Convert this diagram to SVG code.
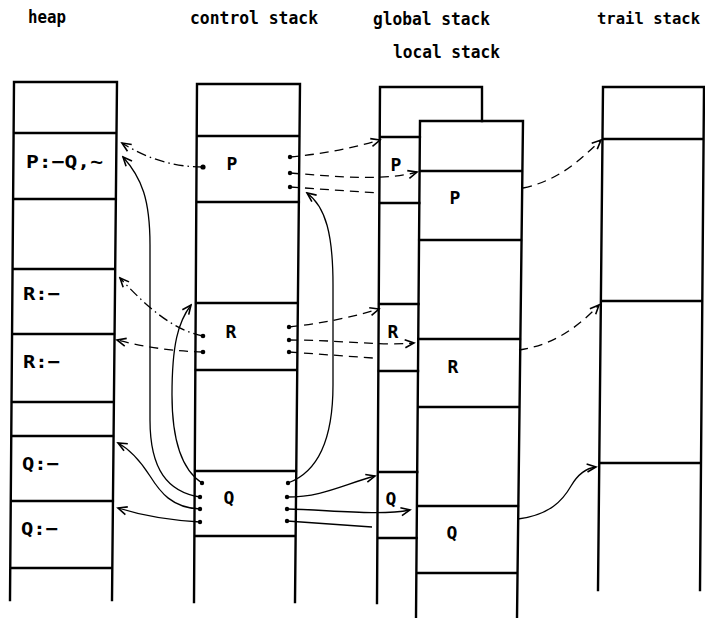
<svg xmlns="http://www.w3.org/2000/svg" width="705" height="618" viewBox="0 0 705 618">
<style>
.col{fill:none;stroke:#000;stroke-width:2.4;stroke-linecap:square}
.hd{font-family:"DejaVu Sans Mono","Liberation Mono",monospace;font-size:18px;font-weight:bold;fill:#000}
.lb{font-family:"DejaVu Sans Mono","Liberation Mono",monospace;font-size:18px;font-weight:bold;fill:#000}
.c{fill:none;stroke:#000;stroke-width:1.3}
.a{marker-end:url(#arr)}
.d{stroke-dasharray:9 6}
.dd{stroke-dasharray:10 4 1.5 4}
.dot{fill:#000}
</style>
<defs>
<marker id="arr" viewBox="-11 -6 13 12" refX="0" refY="0" markerWidth="13" markerHeight="12" markerUnits="userSpaceOnUse" orient="auto">
<path d="M-9,-4 L0,0 L-9,4" fill="none" stroke="#000" stroke-width="1.6"/>
</marker>
</defs>

<g id="titles">
<text class="hd" x="28" y="23" textLength="38" lengthAdjust="spacingAndGlyphs">heap</text>
<text class="hd" x="190" y="24" textLength="128" lengthAdjust="spacingAndGlyphs">control stack</text>
<text class="hd" x="373" y="25" textLength="117" lengthAdjust="spacingAndGlyphs">global stack</text>
<text class="hd" x="597" y="24" style="font-size:16px" textLength="103" lengthAdjust="spacingAndGlyphs">trail stack</text>
<text class="hd" x="393" y="58" textLength="107" lengthAdjust="spacingAndGlyphs">local stack</text>
</g>

<g id="heap">
<path class="col" d="M14,82 L117,82 M14,82 L10,600 M117,82 L112,600 M13.6,133 L116.5,133 M13.1,199 L115.9,199 M12.6,269 L115.2,269 M12.1,334 L114.6,334 M11.5,402 L113.9,402 M11.3,436 L113.6,436 M10.8,501 L113,501 M10.3,568 L112.3,568"/>
<text class="lb" x="26" y="168" textLength="77" lengthAdjust="spacingAndGlyphs">P:−Q,∼</text>
<text class="lb" x="23" y="300" textLength="37" lengthAdjust="spacingAndGlyphs">R:−</text>
<text class="lb" x="23" y="368" textLength="37" lengthAdjust="spacingAndGlyphs">R:−</text>
<text class="lb" x="22" y="470" textLength="37" lengthAdjust="spacingAndGlyphs">Q:−</text>
<text class="lb" x="21" y="535" textLength="37" lengthAdjust="spacingAndGlyphs">Q:−</text>
</g>

<g id="control">
<path class="col" d="M197,84 L300,84 M197,84 L194,602 M300,84 L295,602 M196.7,136 L299.5,136 M196.3,202 L298.9,202 M195.7,303 L297.9,303 M195.3,370 L297.2,370 M194.8,471 L296.3,471 M194.4,536 L295.6,536"/>
<text class="lb" x="232" y="170" text-anchor="middle">P</text>
<text class="lb" x="231" y="338" text-anchor="middle">R</text>
<text class="lb" x="229" y="504" text-anchor="middle">Q</text>
</g>

<g id="global">
<path class="col" d="M380,87 L482,87 L482,121 M380,87 L377,603 M379.7,137 L419.9,137 M379.3,203 L419.3,203 M378.7,304 L418.5,304 M378.3,371 L418,371 M377.8,472 L417.2,472 M377.4,538 L416.6,538"/>
<text class="lb" x="396" y="171" text-anchor="middle">P</text>
<text class="lb" x="393" y="338" text-anchor="middle">R</text>
<text class="lb" x="391" y="505" text-anchor="middle">Q</text>
</g>

<g id="local">
<path class="col" d="M420,121 L523,121 M420,121 L416,618 M523,121 L517,618 M419.6,171 L522.4,171 M419,240 L521.6,240 M418.2,339 L520.4,339 M417.7,407 L519.5,407 M416.9,506 L518.4,506 M416.4,573 L517.5,573"/>
<text class="lb" x="455" y="204" text-anchor="middle">P</text>
<text class="lb" x="453" y="373" text-anchor="middle">R</text>
<text class="lb" x="452" y="539" text-anchor="middle">Q</text>
</g>

<g id="trail">
<path class="col" d="M603,87 L704,87 M603,87 L598,590 M704,87 L700,590 M602.5,139 L703.6,139 M600.9,301 L702.3,301 M599.3,463 L701,463"/>
</g>

<g id="connectors">
<path class="c a dd" d="M203,167 Q160,167 122,143"/>
<path class="c a" d="M200,497 C168,492 150,470 150,420 L150,245 C150,200 142,178 123,157"/>
<path class="c a dd" d="M203,336 C172,330 145,305 120,278"/>
<path class="c a d" d="M203,352 Q160,351 117,340"/>
<path class="c a" d="M202,483 C182,470 172,440 172,395 C172,345 178,322 191,305"/>
<path class="c a" d="M200,509 C172,508 160,492 150,476 C141,462 131,450 118,443"/>
<path class="c a" d="M200,522 C165,520 140,515 118,508"/>

<path class="c a d" d="M290,157 Q335,153 380,140"/>
<path class="c a d" d="M290,173 C340,177 385,181 417,172"/>
<path class="c d" d="M290,187 L378,193"/>
<path class="c a" d="M288,483 C318,472 333,440 333,385 L333,285 C333,235 326,207 307,193"/>
<path class="c a d" d="M289,327 Q336,322 379,309"/>
<path class="c a d" d="M289,340 C340,340 380,346 414,343"/>
<path class="c d" d="M289,352 L373,358"/>
<path class="c a" d="M287,497 C322,497 342,485 375,476"/>
<path class="c a" d="M287,509 C330,510 380,516 410,510"/>
<path class="c" d="M287,521 L372,527"/>

<path class="c a d" d="M523,188 C560,180 580,160 601,140"/>
<path class="c a d" d="M519,350 C555,345 580,325 599,305"/>
<path class="c a" d="M518,519 C550,515 563,500 571,486 C578,474 587,468 596,467"/>
</g>

<g id="dots">
<circle class="dot" cx="203" cy="167" r="2.6"/>
<circle class="dot" cx="203" cy="336" r="2.3"/>
<circle class="dot" cx="203" cy="352" r="2.3"/>
<circle class="dot" cx="202" cy="483" r="2.2"/>
<circle class="dot" cx="200" cy="497" r="2.2"/>
<circle class="dot" cx="200" cy="509" r="2.2"/>
<circle class="dot" cx="200" cy="522" r="2.2"/>
<circle class="dot" cx="290" cy="157" r="2.2"/>
<circle class="dot" cx="290" cy="173" r="2.2"/>
<circle class="dot" cx="290" cy="187" r="2.2"/>
<circle class="dot" cx="289" cy="327" r="2.2"/>
<circle class="dot" cx="289" cy="340" r="2.2"/>
<circle class="dot" cx="289" cy="352" r="2.2"/>
<circle class="dot" cx="288" cy="483" r="2.2"/>
<circle class="dot" cx="287" cy="497" r="2.2"/>
<circle class="dot" cx="287" cy="509" r="2.2"/>
<circle class="dot" cx="287" cy="521" r="2.2"/>
</g>
</svg>
